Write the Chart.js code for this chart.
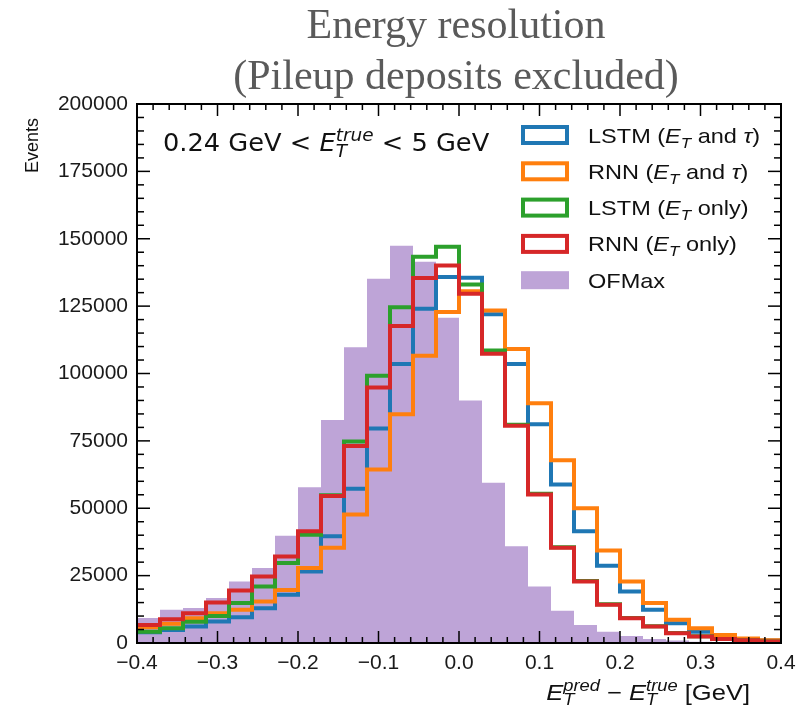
<!DOCTYPE html>
<html>
<head>
<meta charset="utf-8">
<script src="https://cdn.jsdelivr.net/npm/chart.js@4.4.1/dist/chart.umd.min.js"></script>
<style>
  html, body { margin: 0; padding: 0; background: #fff; }
  canvas { display: block; }
</style>
</head>
<body>
<canvas id="resChart" width="808" height="714"></canvas>
<script>
// histogram range: 28 equal bins between -0.4 and 0.4 GeV
const xMin = -0.4, xMax = 0.4;
const xStep = 0.1, xMinorStep = 0.02;
const yMax = 200000, yStep = 25000, yMinorStep = 5000;

const titleLines = ['Energy resolution', '(Pileup deposits excluded)'];
const rangeText = '0.24 GeV < $E_T^{true}$ < 5 GeV';
const xTitle = '$E_T^{pred}$ \u2212 $E_T^{true}$ [GeV]';
const yTitle = 'Events';

const seriesNames = [
  'LSTM ($E_T$ and $\u03c4$)',
  'RNN ($E_T$ and $\u03c4$)',
  'LSTM ($E_T$ only)',
  'RNN ($E_T$ only)',
  'OFMax'
];

// events per bin
const lstmEtTau = [4000, 4800, 6100, 8000, 9600, 12900, 17900, 26500, 39600, 57200, 79600, 103500, 124000, 135800,
  135500, 122000, 103500, 81200, 58800, 41500, 28700, 19100, 12300, 7300, 4200, 2400, 1500, 900];
const rnnEtTau = [5800, 7100, 9200, 11000, 12300, 15400, 19700, 27800, 35300, 47700, 64400, 84900, 106600, 122800,
  130500, 123400, 109100, 89000, 67800, 50000, 34300, 22800, 14800, 8600, 5500, 3000, 1700, 1000];
const lstmEt = [4200, 5500, 7900, 10000, 14800, 21000, 29700, 40200, 54800, 74800, 99200, 124600, 143300, 147000,
  133000, 108500, 81000, 55400, 35500, 23000, 14400, 9300, 6200, 3700, 2500, 1500, 1000, 600];
const rnnEt = [6700, 8800, 11000, 15000, 19500, 24700, 32100, 41500, 54500, 73100, 94800, 117600, 135400, 140100,
  129600, 107300, 80600, 55100, 35300, 22800, 14200, 9200, 6100, 3600, 2400, 1500, 1000, 600];
const ofMax = [9300, 12300, 13000, 16700, 22800, 27800, 39800, 57800, 82700, 109700, 135200, 147400, 141500, 120700,
  90000, 59500, 35900, 21000, 12000, 6700, 4200, 2600, 1500, 900, 500, 300, 200, 100];

const colors = ['#1f77b4', '#ff7f0e', '#2ca02c', '#d62728', '#bea4d7'];

// left bin edges + closing point so a 'before' step draws each bin flat
function histPoints(values) {
  const w = (xMax - xMin) / values.length;
  const pts = values.map((v, i) => ({ x: xMin + i * w, y: v }));
  pts.push({ x: xMax, y: values[values.length - 1] });
  return pts;
}

function stepLine(label, values, color, order) {
  return {
    label: label,
    data: histPoints(values),
    stepped: 'before',
    borderColor: color,
    borderWidth: 4,
    backgroundColor: color,
    pointRadius: 0,
    pointHoverRadius: 0,
    fill: false,
    order: order
  };
}

// tiny $..$ parser: letters italic inside math, _x / ^{..} become scripts
function parseTex(str) {
  const segs = [];
  let math = false, buf = '';
  const flush = () => { if (buf) { segs.push({ t: buf, it: false, sc: 0 }); buf = ''; } };
  for (let i = 0; i < str.length; i++) {
    const c = str[i];
    if (c === '$') { flush(); math = !math; continue; }
    if (!math) { buf += c; continue; }
    if (c === '_' || c === '^') {
      let g = '';
      if (str[i + 1] === '{') {
        let j = i + 2;
        while (j < str.length && str[j] !== '}') g += str[j++];
        i = j;
      } else { g = str[i + 1]; i++; }
      segs.push({ t: g, it: true, sc: c === '_' ? 1 : -1 });
    } else {
      segs.push({ t: c, it: /\p{L}/u.test(c), sc: 0 });
    }
  }
  flush();
  return segs;
}

// sx widens the glyphs a bit, the reference figure was stretched sideways
function drawTex(ctx, str, x, y, size, family, align, sx) {
  sx = sx || 1;
  const items = [];
  let cx = 0, prev = null;
  parseTex(str).forEach(s => {
    const fs = s.sc ? size * 0.72 : size;
    const font = (s.it ? 'italic ' : '') + fs + 'px "' + family + '"';
    ctx.font = font;
    const w = ctx.measureText(s.t).width * sx;
    const dy = s.sc === 1 ? size * 0.24 : (s.sc === -1 ? -size * 0.42 : 0);
    let px = cx;
    if (s.sc && prev && prev.sc && prev.sc !== s.sc) {
      px = prev.x;
      cx = Math.max(prev.x + prev.w, px + w);
    } else {
      cx = px + w;
    }
    const it = { x: px, w: w, dy: dy, font: font, t: s.t, sc: s.sc };
    items.push(it);
    prev = it;
  });
  const x0 = align === 'right' ? x - cx : x;
  ctx.textAlign = 'left';
  ctx.textBaseline = 'alphabetic';
  items.forEach(it => {
    ctx.save();
    ctx.translate(x0 + it.x, y + it.dy);
    ctx.scale(sx, 1);
    ctx.font = it.font;
    ctx.fillText(it.t, 0, 0);
    ctx.restore();
  });
}

const decor = {
  id: 'decor',
  afterDraw(chart) {
    const ctx = chart.ctx;
    const a = chart.chartArea;
    const xs = chart.scales.x, ys = chart.scales.y;
    ctx.save();

    // ticks pointing inwards on all four sides
    ctx.strokeStyle = '#000';
    ctx.lineWidth = 1.5;
    const seg = (x1, y1, x2, y2) => { ctx.beginPath(); ctx.moveTo(x1, y1); ctx.lineTo(x2, y2); ctx.stroke(); };
    const nx = Math.round((xMax - xMin) / xMinorStep);
    for (let k = 0; k <= nx; k++) {
      const px = xs.getPixelForValue(xMin + k * xMinorStep);
      const len = k % 5 === 0 ? 12 : 6;
      seg(px, a.bottom, px, a.bottom - len);
      seg(px, a.top, px, a.top + len);
    }
    const ny = Math.round(yMax / yMinorStep);
    for (let k = 0; k <= ny; k++) {
      const py = ys.getPixelForValue(k * yMinorStep);
      const len = k % 5 === 0 ? 13 : 7;
      seg(a.left, py, a.left + len, py);
      seg(a.right, py, a.right - len, py);
    }
    ctx.lineWidth = 2;
    ctx.strokeRect(a.left, a.top, a.right - a.left, a.bottom - a.top);

    // slide title
    ctx.fillStyle = '#5a5a5a';
    ctx.font = '42px "Liberation Serif"';
    ctx.textAlign = 'center';
    ctx.textBaseline = 'alphabetic';
    const cx = (a.left + a.right) / 2 - 3;
    ctx.fillText(titleLines[0], cx, 38);
    ctx.fillText(titleLines[1], cx, 89);

    // energy range note
    ctx.fillStyle = '#111';
    drawTex(ctx, rangeText, a.left + 26, a.top + 47, 24, 'DejaVu Sans', 'left', 1.07);

    // legend
    const bx = a.right - 260, bw = 48, bh = 16;
    seriesNames.forEach((name, i) => {
      const yc = a.top + 31 + i * 36.3;
      if (i < 4) {
        ctx.strokeStyle = colors[i];
        ctx.lineWidth = 4;
        ctx.strokeRect(bx + 2, yc - bh / 2, bw - 4, bh);
      } else {
        ctx.fillStyle = colors[i];
        ctx.fillRect(bx, yc - bh / 2 - 1, bw, bh + 2);
      }
      ctx.fillStyle = '#111';
      drawTex(ctx, name, a.right - 193, yc + 7.5, 21, 'Liberation Sans', 'left', 1.12);
    });

    // axis titles
    drawTex(ctx, xTitle, a.right - 31, 700, 22, 'Liberation Sans', 'right', 1.16);
    ctx.translate(33, a.top + 14);
    ctx.rotate(-Math.PI / 2);
    ctx.font = '18px "Liberation Sans"';
    ctx.textAlign = 'right';
    ctx.textBaseline = 'middle';
    ctx.fillText(yTitle, 0, 0);
    ctx.restore();
  }
};

const tickFont = { family: 'Liberation Sans', size: 21 };

new Chart(document.getElementById('resChart').getContext('2d'), {
  type: 'line',
  data: {
    datasets: [
      stepLine(seriesNames[0], lstmEtTau, colors[0], 4),
      stepLine(seriesNames[1], rnnEtTau, colors[1], 3),
      stepLine(seriesNames[2], lstmEt, colors[2], 2),
      stepLine(seriesNames[3], rnnEt, colors[3], 1),
      {
        label: seriesNames[4],
        data: histPoints(ofMax),
        stepped: 'before',
        borderWidth: 0,
        borderColor: 'rgba(0,0,0,0)',
        backgroundColor: colors[4],
        pointRadius: 0,
        pointHoverRadius: 0,
        fill: 'origin',
        order: 5
      }
    ]
  },
  options: {
    responsive: false,
    animation: false,
    devicePixelRatio: 1,
    layout: { padding: { top: 104, right: 27, left: 0, bottom: 0 } },
    scales: {
      x: {
        type: 'linear',
        min: xMin,
        max: xMax,
        grid: { display: false, drawTicks: false },
        border: { display: false },
        ticks: {
          stepSize: xStep,
          autoSkip: false,
          maxRotation: 0,
          padding: 8,
          color: '#1a1a1a',
          font: tickFont,
          callback: v => (v < -1e-9 ? '\u2212' : '') + Math.abs(v).toFixed(1)
        },
        afterFit: s => { s.height = 71; }
      },
      y: {
        min: 0,
        max: yMax,
        grid: { display: false, drawTicks: false },
        border: { display: false },
        ticks: {
          stepSize: yStep,
          padding: 9,
          color: '#1a1a1a',
          font: tickFont,
          callback: v => String(v)
        },
        afterFit: s => { s.width = 137; }
      }
    },
    plugins: {
      legend: { display: false },
      tooltip: { enabled: false },
      title: { display: false }
    }
  },
  plugins: [decor]
});
</script>
</body>
</html>
